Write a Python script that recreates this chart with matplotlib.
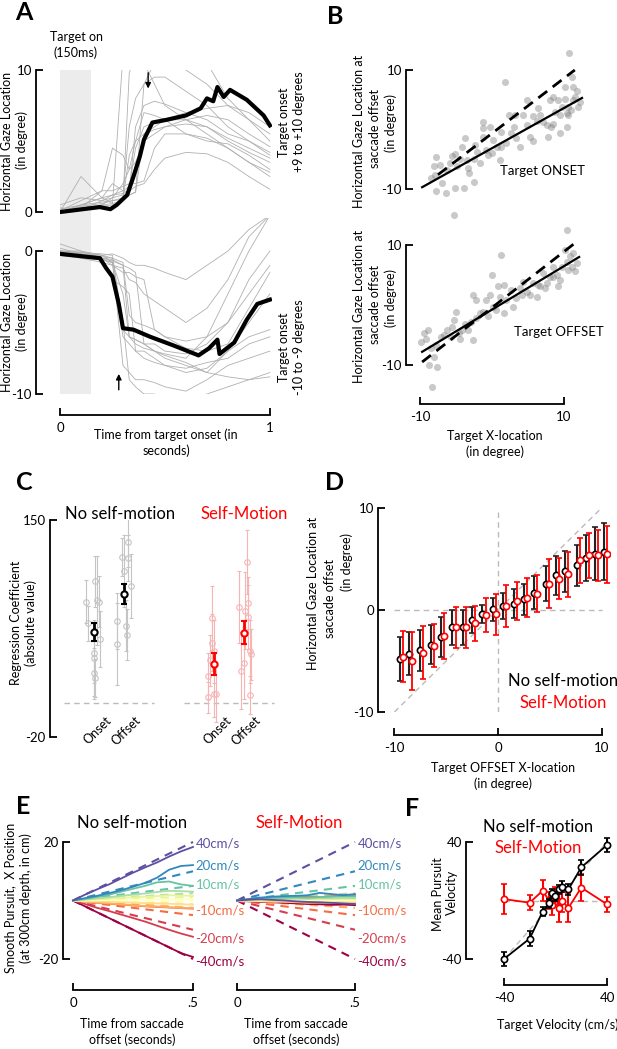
import numpy as np
import matplotlib.pyplot as plt

plt.rcParams['font.family'] = ['Lato', 'DejaVu Sans']
plt.rcParams['axes.linewidth'] = 1.3

# ---------------- data ----------------
# A: gaze traces (time in s, gaze in deg)
a_t = [0, 0.1, 0.2, 0.25, 0.3, 0.33, 0.36, 0.4, 0.45, 0.5, 0.6, 0.7, 0.8, 0.9, 1.0]
a_top_traces = [
    [0, .3, .5, .6, 11, 11, 11, 10.5, 9, 7.5, 6.5, 5.5, 4.5, 3.5, 2.5],
    [0, .2, .8, 1, 1.2, 6, 8, 9, 9.5, 9.5, 8.5, 7.5, 6, 5, 4],
    [.2, .5, 1, 2, 1.5, 1.8, 4.5, 6, 6.3, 6.5, 6.5, 6, 5, 4.2, 3.5],
    [0, .5, .7, .8, 1, 1.2, 1.4, 5.5, 5.8, 6, 6.2, 6, 5.2, 4.5, 3.8],
    [0, .3, 1.5, 4.5, 4, 3, 5, 7, 6.8, 6.5, 5.5, 5.2, 4.5, 3.5, 2.8],
    [.1, .8, 1.5, 1.5, 1.8, 2, 2, 2.2, 4.5, 5.5, 5.5, 5.0, 4.8, 4, 3],
    [0, .2, .4, .5, .8, 9.8, 11, 11, 11, 11, 10, 9, 7.5, 6.5, 5.5],
    [.3, .1, .5, 1, 2, 3, 3.5, 5, 5.5, 6, 6.5, 6.8, 6.5, 5.5, 4.6],
    [0, .5, 1, 1.2, 1.3, 1.5, 1.8, 2, 3, 3.8, 4.2, 4.1, 3.5, 2.5, 1.6],
    [.5, 1, .8, 1.2, 1.5, 1.4, 6, 7.5, 7.8, 7.6, 7, 6.5, 5.5, 5, 4.2],
    [0, 2.5, 1, .6, .8, 1.2, 1.4, 9, 10.5, 11, 11, 10.5, 8, 6.5, 5],
    [0, .4, .6, .8, .9, 4, 5, 5.5, 6, 6.5, 7, 7.3, 7.5, 7, 6],
]
a_bot_traces = [
    [0, -.2, -.5, -.6, -1, -6, -6.5, -6.8, -7, -7.2, -7.5, -6, -3, 0, 2.5],
    [0, -.1, -.3, -.5, -5, -9, -9.5, -10, -10, -10.5, -10.5, -10, -9.5, -9, -8.5],
    [-.2, -.4, -.6, -2, -2.5, -3, -7, -7.5, -7.8, -8, -8.5, -8.2, -7, -5, -3],
    [0, 0, -.5, -1, -1.5, -1.5, -1.8, -2, -5.5, -6, -6.3, -6, -5, -3, -1],
    [.5, 0, -.3, -.2, -.5, -.8, -1, -1, -1.2, -1.5, -2, -1, 0, 1.5, 2.5],
    [0, -.4, -.6, -.8, -8, -8.5, -9, -9, -9.2, -9.5, -9.8, -9, -8, -7.5, -7],
    [-.2, -.2, -.4, -.5, -.8, -4.5, -5, -5.2, -5.5, -6, -6.8, -7, -6.5, -4, -1.5],
    [0, -.3, -.5, -.7, -1, -1.2, -1.5, -6.5, -7, -7.3, -7.8, -8.5, -8.8, -9, -8.8],
    [.2, -.2, -.3, -.8, -3, -6, -6.2, -6.5, -6.5, -7, -7.2, -6.5, -5, -2, 0],
    [0, -.1, -.2, -.3, -5.5, -6, -6.2, -6.5, -7, -7.5, -8, -8.5, -7, -6, -5.5],
    [0, -.5, -.8, -1, -1.2, -2, -2.2, -3, -3.5, -4, -5, -4, -2, 1, 2.5],
    [-.3, -.5, -.6, -.8, -6, -6.5, -7, -7, -7.5, -8, -8.2, -7.8, -7.5, -6.5, -6],
]
a_top_mean_t = [0, .19, .24, .27, .32, .35, .38, .40, .44, .51, .6, .67, .70, .73, .75, .78, .81, .89, .97, 1.0]
a_top_mean_y = [0, .35, .2, .5, 1.2, 2.5, 3.9, 5.1, 6.3, 6.5, 6.8, 7.3, 8.0, 7.8, 8.8, 8.1, 8.6, 7.9, 6.8, 6.1]
a_bot_mean_t = [0, .19, .22, .25, .28, .30, .35, .43, .54, .66, .71, .75, .76, .83, .89, .94, 1.0]
a_bot_mean_y = [-.2, -.5, -1.2, -1.8, -3.7, -5.4, -5.5, -6.0, -6.6, -7.3, -6.8, -6.2, -7.2, -6.4, -4.8, -3.7, -3.4]

# B: scatter (target x, gaze at saccade offset)
b_on_x = [-7.8, -8.1, -7.9, -7.0, -7.8, -6.4, -5.1, -3.9, -2.5, -5.1, -5.8, -4.9, -3.75, -4.2, -3.3, -3.2,
          -1.7, -1.3, -1.2, -0.3, -1.2, 0.1, -0.6, 1.1, 1.3, 1.8, 2.3, 3.0, 3.4, 3.9, 4.8, 4.9, 5.3, 5.7,
          6.4, 6.7, 5.7, 7.8, 8.1, 7.6, 8.5, 9.2, 9.7, 10.1, 10.4, 10.4, 10.7, 11.1, 11.3, 11.8, 12.2,
          12.0, 11.5, 10.6, 9.4, 8.75, 7.1, 4.35, 2.7, 2.0, 0.65, -0.05, -2.1, -2.5, -3.5, -4.4, -6.3,
          -7.2, -8.4, -5.3, -5.5, -2.4, -0.9, 1.3, 3.2, 6.2, 9.4, 8.2, 8.5, 11.3, 10.6, 10.2, 11.0]
b_on_y = [-4.6, -6.2, -7.6, -9.0, -10.3, -10.6, -9.8, -9.9, -8.8, -4.1, -5.7, -6.2, -1.5, -2.9, -6.5, -7.3,
          -5.7, 1.3, 0.2, 0.5, -1.2, -1.8, -4.3, -5.1, -0.4, 8.0, 2.4, 0.5, -1.5, -2.9, 4.9, 0.8, -1.2, 2.2,
          3.6, 2.4, -2.0, -1.2, 4.9, 0.8, 1.0, 4.9, 3.8, 5.2, 0.5, 2.7, 12.8, 8.9, 7.2, 6.4, 4.7,
          3.8, 5.4, 3.8, 2.4, 3.0, 1.3, 2.4, -0.6, -2.3, -2.9, -4.0, -3.7, -4.9, -5.1, -4.9, -6.8,
          -6.0, -8.2, -14.3, -4.5, -2.6, -3.4, -2.9, 2.4, 1.5, -0.6, 0.5, 5.5, 5.0, 2.4, 7.2, 3.3]
b_off_x = [-9.8, -9.2, -8.9, -8.4, -8.7, -8.0, -7.6, -8.3, -7.8, -7.1, -6.6, -6.2, -5.5, -5.0, -5.3, -4.6,
           -4.1, -3.7, -4.4, -2.9, -2.7, -2.7, -2.2, -1.3, -0.8, -0.6, 0.1, 0.0, 0.6, 0.85, 1.1, 1.3, 1.6,
           2.0, 2.7, 3.4, 3.9, 4.35, 4.8, 5.7, 6.2, 6.7, 7.1, 7.6, 8.1, 8.5, 9.0, 9.4, 10.1, 10.4, 10.9,
           11.3, 11.8, 10.6, 9.7, 11.1, 11.5, 8.5, 6.4, 5.3, 2.9, -1.7, -0.3, -3.3, -5.7, -9.5, 10.4,
           -2.2, 1.6, 4.1, 7.3, 9.2]
b_off_y = [-6.1, -5.6, -4.2, -7.2, -10.0, -8.6, -10.3, -13.7, -6.7, -5.3, -5.0, -4.2, -3.6, -1.1, -2.5, -4.7,
           -4.2, -3.1, -5.6, -2.8, -5.8, 1.7, 0.8, -1.1, 0.8, -1.9, -0.3, 5.0, -0.8, 3.1, 1.4, 8.3, -1.4,
           0.8, 2.5, 1.1, 2.8, 3.9, 2.2, 3.6, 1.4, 3.1, 5.3, 3.6, 4.7, 6.4, 5.0, 4.2, 9.2, 7.2, 8.1,
           8.6, 7.0, 5.8, 6.4, 6.4, 5.6, 4.7, 3.3, 1.7, -0.3, -1.4, 1.7, -4.2, -5.3, -4.7, 12.5,
           -2.2, 3.3, 1.7, 2.8, 3.1]
b_on_fit = ([-9.7, 12.5], [-9.7, 5.3])
b_on_ideal = ([-7.5, 11.5], [-7.6, 10.0])
b_off_fit = ([-9.7, 12.1], [-7.8, 8.0])
b_off_ideal = ([-9.7, 11.5], [-9.5, 10.3])

# C: regression coefficients (category positions 0,1 | 4,5)
c_cats = [0, 1, 4, 5]
c_cat_labels = ['Onset', 'Offset', 'Onset', 'Offset']
c_mean = [62.3, 92, 37.2, 61.5]
c_mean_err = [7, 8, 8.5, 9]
c_subj_dx = [
    [-0.27, -0.21, 0.03, 0.01, 0.01, 0.01, 0.03, 0.11, 0.17, 0.18],
    [-0.24, -0.23, -0.08, 0.07, 0.10, 0.14, 0.12, 0.23, 0.0],
    [-0.22, -0.22, -0.08, -0.06, -0.02, 0.0, 0.06, -0.13],
    [-0.18, -0.09, 0.0, 0.04, 0.08, 0.13, 0.13, 0.2, 0.24, 0.21],
]
c_subj_val = [
    [86, 69, 102, 46, 42, 30, 26, 87, 86, 57],
    [71, 53, 121, 67, 60, 120, 133, 98, 110],
    [28, 11, 73, 54, 47, 14, 13.5, 40],
    [82, 32, 38, 79, 117, 74, 85, 47, 45, 13],
]
c_subj_err = [
    [17, 14, 20, 24, 30, 20, 15, 35, 20, 22],
    [22, 32, 15, 20, 20, 18, 20, 25, 28],
    [18, 12, 25, 22, 25, 18, 22, 20],
    [28, 30, 28, 30, 25, 25, 20, 25, 20, 15],
]

# D: binned gaze vs target offset location
d_x = [-9.5, -8.6, -7.5, -6.5, -5.5, -4.4, -3.4, -2.5, -1.5, -0.5, 0.5, 1.5, 2.5, 3.5, 4.6, 5.6, 6.5, 7.6, 8.5, 9.4, 10.2]
d_no_y = [-4.8, -4.3, -3.95, -3.4, -2.65, -1.7, -1.7, -1.0, -0.42, 0.07, 0.4, 0.62, 1.05, 1.7, 2.6, 3.4, 3.8, 4.4, 5.1, 5.5, 5.7]
d_no_err = [2.2, 2.1, 2.0, 1.9, 2.0, 1.7, 1.7, 1.3, 0.9, 1.1, 1.3, 1.4, 1.5, 1.6, 1.7, 1.9, 2.0, 2.0, 2.3, 2.6, 2.8]
d_self_y = [-4.6, -5.0, -4.2, -3.5, -2.55, -1.7, -1.7, -1.3, -0.49, -0.42, 0.4, 0.88, 1.2, 1.6, 2.6, 3.07, 3.5, 4.87, 5.36, 5.36, 5.46]
d_self_err = [2.5, 2.8, 2.6, 2.1, 2.3, 2.0, 2.0, 1.7, 1.7, 2.0, 2.1, 1.9, 1.9, 1.8, 2.4, 2.0, 2.2, 2.2, 2.2, 2.5, 2.8]
d_self_dx = 0.3

# E: smooth pursuit position traces
e_t = [0, .05, .1, .15, .2, .25, .3, .35, .4, .45, .5]
e_vel = [-40, -20, -10, -5, -2.5, 0, 2.5, 5, 10, 20, 40]
e_colors = ['#9e0142', '#d53e4f', '#f46d43', '#fdae61', '#fee08b', '#ffffbf',
            '#e6f598', '#abdda4', '#66c2a5', '#3288bd', '#5e4fa2']
e_target_end = [-20, -10, -5, -2.5, -1.25, 0, 1.25, 2.5, 5, 10, 20]
e_no_traces = [
    [0, -2, -4, -6, -8, -10, -12, -14, -16, -18, -19.3],
    [0, -1.2, -2.5, -3.6, -4.8, -6, -7.2, -8.6, -10, -11.3, -12.4],
    [0, -.4, -.8, -1.1, -1.4, -1.7, -2, -2.2, -2.4, -2.6, -2.8],
    [0, -.4, -.7, -1, -1.3, -1.6, -1.9, -2, -2.3, -2.5, -2.6],
    [0, -.2, -.3, -.4, -.6, -.7, -.9, -1, -1.1, -1.3, -1.4],
    [0, 0, .1, .2, .1, .3, .2, .4, .3, .5, .4],
    [0, .2, .4, .6, .9, 1.1, 1.3, 1.5, 1.8, 1.7, 1.6],
    [0, .3, .7, 1.1, 1.6, 2, 2.4, 2.9, 3.3, 3.2, 3.0],
    [0, .6, 1.2, 2, 3, 4, 5, 6.2, 6.5, 5.5, 5],
    [0, .8, 1.6, 2.5, 3.5, 4.7, 6, 7.8, 10.5, 11.8, 12.1],
    [0, 2, 3.8, 5.5, 7.5, 9.5, 11.3, 13, 15, 16.8, 18.3],
]
e_self_traces = [
    [0, -.3, -.5, -.6, -.8, -1, -1.2, -1.3, -1.5, -1.4, -1.6],
    [0, -.1, -.3, -.4, -.6, -.5, -.7, -.8, -.6, -.8, -.9],
    [0, .3, .6, .8, .9, 1.1, 1.3, 1.1, 1.5, 1.8, 1.6],
    [0, -.2, -.3, -.5, -.4, -.6, -.8, -.7, -.9, -.8, -1],
    [0, -.1, -.2, -.1, -.3, -.4, -.3, -.5, -.4, -.6, -.5],
    [0, .1, 0, .2, .1, 0, .2, -.1, 0, .1, 0],
    [0, .1, .3, .2, .4, .3, .5, .4, .6, .5, .4],
    [0, .2, .4, .6, .5, .7, .6, .8, .7, .9, .8],
    [0, .3, .6, .9, 1, 1.1, 1, 1.2, 1.3, 1.5, 1.4],
    [0, .5, 1, 1.3, 1.5, 1.6, 1.8, 2.6, 2.2, 1.8, 2.2],
    [0, .3, .4, .2, 0, -.3, -.5, -.6, -.8, -1, -1.2],
]
e_label_vel = ['40cm/s', '20cm/s', '10cm/s', '-10cm/s', '-20cm/s', '-40cm/s']
e_label_col = ['#5e4fa2', '#3288bd', '#66c2a5', '#f46d43', '#d53e4f', '#9e0142']
e_label_y = [19.6, 12.1, 5.6, -3.3, -12.9, -21]

# F: mean pursuit velocity
f_x = [-40, -20, -10, -5, -2.5, 0, 2.5, 5, 10, 20, 40]
f_no_y = [-40, -26, -7.6, -2, 4.9, 3, 7.6, 9.5, 7.6, 22.7, 38]
f_no_err = [5, 5, 3, 3, 3, 3, 3, 4, 4, 5, 5]
f_self_y = [1, -1.5, 6.7, 0, -3, 3, -5, 0, -5, 8.8, -2.6]
f_self_err = [10, 5, 7, 6, 7, 6, 10, 8, 10, 9, 5]

# ---------------- figure ----------------
W, H = 617, 1049
fig = plt.figure(figsize=(W / 100, H / 100), dpi=100)
PT = 0.72  # points per pixel


def box(l, t, r, b):
    ax = fig.add_axes([l / W, 1 - b / H, (r - l) / W, (b - t) / H])
    ax.patch.set_visible(False)
    for s in ax.spines.values():
        s.set_visible(False)
    ax.set_xticks([])
    ax.set_yticks([])
    return ax


def yaxis(ax, off, lo, hi, ticks, fs=9.5):
    sp = ax.spines['left']
    sp.set_visible(True)
    sp.set_position(('outward', off * PT))
    sp.set_bounds(lo, hi)
    ax.set_yticks(ticks)
    ax.set_yticklabels([str(v) for v in ticks], fontsize=fs)
    ax.tick_params(axis='y', direction='in', length=5, width=1.3, pad=3)


def xaxis(ax, off, lo, hi, ticks, labels=None, fs=9.5):
    sp = ax.spines['bottom']
    sp.set_visible(True)
    sp.set_position(('outward', off * PT))
    sp.set_bounds(lo, hi)
    ax.set_xticks(ticks)
    ax.set_xticklabels(labels if labels else [str(v) for v in ticks], fontsize=fs)
    ax.tick_params(axis='x', direction='in', length=5, width=1.3, pad=5)


def ftext(x, y, s, **kw):
    kw.setdefault('ha', 'center')
    kw.setdefault('va', 'center')
    fig.text(x / W, 1 - y / H, s, **kw)


def vlabel(xs, ys, lines, **kw):
    # rotated multi-line label, one text per line
    for xl, yl, s in zip(xs, ys, lines):
        ftext(xl, yl, s, rotation=90, fontsize=LBL, **kw)


LBL = 9
TTL = 12
# ---- panel A ----
axA1 = box(60, 70, 272, 218)
axA1.set_xlim(0, 1.01)
axA1.set_ylim(-0.42, 10)
axA2 = box(60, 218, 272, 394)
axA2.set_xlim(0, 1.01)
axA2.set_ylim(-10, 2.31)
for ax, traces in ((axA1, a_top_traces), (axA2, a_bot_traces)):
    ax.axvspan(0, 0.15, color='#ececec', lw=0, zorder=0)
    for tr in traces:
        ax.plot(a_t, tr, color='#b0b0b0', lw=0.6, zorder=1)
axA1.plot(a_top_mean_t, a_top_mean_y, color='k', lw=3, zorder=3)
axA2.plot(a_bot_mean_t, a_bot_mean_y, color='k', lw=3, zorder=3)
yaxis(axA1, 24, 0, 10, [0, 10])
yaxis(axA2, 24, -10, 0, [-10, 0])
xaxis(axA2, 21, 0, 1, [0, 1])
axA1.annotate('', xy=(0.42, 8.5), xytext=(0.42, 10),
              arrowprops=dict(arrowstyle='-|>', color='k', lw=1, mutation_scale=8))
axA2.annotate('', xy=(0.28, -8.4), xytext=(0.28, -9.9),
              arrowprops=dict(arrowstyle='-|>', color='k', lw=1, mutation_scale=8))
ftext(24, 13, 'A', fontsize=18, fontweight='bold')
ftext(76, 45, 'Target on\n(150ms)', fontsize=LBL, linespacing=1.3)
a_lbl = ['Horizontal Gaze Location', '(in degree)']
vlabel((7, 22), (141, 140), a_lbl)
vlabel((7, 22), (322, 322), a_lbl)
vlabel((284, 299), (122, 122), ['Target onset', '+9 to +10 degrees'])
vlabel((284, 299), (347, 347), ['Target onset', '-10 to -9 degrees'])
ftext(166, 443, 'Time from target onset (in\nseconds)', fontsize=LBL, linespacing=1.3)

# ---- panel B ----
axB1 = box(415, 40, 590, 220)
axB1.set_xlim(-10.69, 13.61)
axB1.set_ylim(-15.21, 15.04)
axB2 = box(415, 222, 590, 385)
axB2.set_xlim(-10.69, 13.61)
axB2.set_ylim(-13.33, 13.83)
for ax, xs, ys, fit, ideal in ((axB1, b_on_x, b_on_y, b_on_fit, b_on_ideal),
                               (axB2, b_off_x, b_off_y, b_off_fit, b_off_ideal)):
    ax.scatter(xs, ys, s=26, color='#7a7a7a', alpha=0.4, lw=0, clip_on=False)
    ax.plot(*fit, color='k', lw=1.6, clip_on=False)
    ax.plot(*ideal, color='k', lw=2, ls=(0, (4, 2.5)), clip_on=False)
    yaxis(ax, 9, -10, 10, [-10, 10])
xaxis(axB2, 19, -10, 10, [-10, 10])
axB1.text(7.0, -6.9, 'Target ONSET', fontsize=9.5, ha='center', va='center')
axB2.text(9.3, -4.5, 'Target OFFSET', fontsize=9.5, ha='center', va='center')
ftext(335, 17, 'B', fontsize=18, fontweight='bold')
b_lbl = ['Horizontal Gaze Location at', 'saccade offset', '(in degree)']
vlabel((359, 375, 391), (131, 129, 123), b_lbl)
vlabel((359, 375, 391), (306, 304, 298), b_lbl)
ftext(495, 444, 'Target X-location\n(in degree)', fontsize=LBL, linespacing=1.3)

# ---- panel C ----
axC = box(50, 520, 290, 737)
axC.set_xlim(-1.47, 6.53)
axC.set_ylim(-20, 150)
sp = axC.spines['left']
sp.set_visible(True)
axC.set_yticks([-20, 150])
axC.set_yticklabels(['-20', '150'], fontsize=9.5)
axC.tick_params(axis='y', direction='in', length=5, width=1.3, pad=3)
axC.plot([-1, 2], [6.5, 6.5], color='#bbbbbb', lw=1, ls=(0, (4, 3)))
axC.plot([3, 6], [6.5, 6.5], color='#bbbbbb', lw=1, ls=(0, (4, 3)))
for i, cx in enumerate(c_cats):
    faint = '#c4c4c4' if cx < 3 else '#f7b4b4'
    strong = 'k' if cx < 3 else 'red'
    xs = [cx + d for d in c_subj_dx[i]]
    axC.errorbar(xs, c_subj_val[i], yerr=c_subj_err[i], fmt='o', ms=4, mfc='none', mec=faint,
                 ecolor=faint, elinewidth=0.8, capsize=1.5, mew=0.8, zorder=2)
    axC.errorbar([cx], [c_mean[i]], yerr=[c_mean_err[i]], fmt='o', ms=4.5, mfc='white', mec=strong,
                 ecolor=strong, elinewidth=2, capsize=2.5, capthick=1.5, mew=1.5, zorder=4)
    axC.text(cx + 0.35, -2, c_cat_labels[i], rotation=45, ha='right', va='top',
             rotation_mode='anchor', fontsize=9)
axC.text(0.87, 155, 'No self-motion', fontsize=TTL, ha='center', va='center')
axC.text(5.0, 155, 'Self-Motion', fontsize=TTL, ha='center', va='center', color='red')
ftext(24, 482, 'C', fontsize=18, fontweight='bold')
vlabel((16, 31), (623, 623), ['Regression Coefficient', '(absolute value)'])

# ---- panel D ----
axD = box(390, 506, 610, 712)
axD.set_xlim(-10.43, 10.82)
axD.set_ylim(-10, 10.2)
axD.plot([-10, 10], [-10, 10], color='#bbbbbb', lw=1, ls=(0, (4, 3)), zorder=1)
axD.plot([-10, 10], [0, 0], color='#bbbbbb', lw=1, ls=(0, (4, 3)), zorder=1)
axD.plot([0, 0], [-10, 10], color='#bbbbbb', lw=1, ls=(0, (4, 3)), zorder=1)
axD.errorbar(d_x, d_no_y, yerr=d_no_err, fmt='o', ms=4.5, mfc='white', mec='k', mew=1.2,
             ecolor='#222222', elinewidth=1.5, capsize=2, capthick=1.2, zorder=3)
axD.errorbar([x + d_self_dx for x in d_x], d_self_y, yerr=d_self_err, fmt='o', ms=4.5, mfc='white',
             mec='red', mew=1.2, ecolor='red', elinewidth=1.3, capsize=2, capthick=1.2, zorder=4)
yaxis(axD, 12, -10, 10, [-10, 0, 10])
xaxis(axD, 23, -10, 10, [-10, 0, 10])
axD.text(6.3, -7.0, 'No self-motion', fontsize=TTL, ha='center', va='center')
axD.text(6.3, -9.1, 'Self-Motion', fontsize=TTL, ha='center', va='center', color='red')
ftext(335, 482, 'D', fontsize=18, fontweight='bold')
vlabel((313, 330, 347), (593, 598, 562), b_lbl)
ftext(503, 776, 'Target OFFSET X-location\n(in degree)', fontsize=LBL, linespacing=1.3)

# ---- panel E ----
axE1 = box(73, 842, 193, 959)
axE2 = box(237, 842, 355, 959)
for ax, traces in ((axE1, e_no_traces), (axE2, e_self_traces)):
    ax.set_xlim(0, 0.5)
    ax.set_ylim(-20, 20)
    for k in range(len(e_vel)):
        ax.plot([0, 0.5], [0, e_target_end[k]], color=e_colors[k], lw=1.5, ls=(0, (4, 3)), clip_on=False)
    for k in range(len(e_vel)):
        ax.plot(e_t, traces[k], color=e_colors[k], lw=1.3, clip_on=False)
    for s, c, y in zip(e_label_vel, e_label_col, e_label_y):
        ax.text(0.51, y, s, color=c, fontsize=9.5, ha='left', va='center')
    xaxis(ax, 31, 0, 0.5, [0, 0.5], ['0', '.5'])
yaxis(axE1, 10, -20, 20, [-20, 20])
ftext(23, 806, 'E', fontsize=18, fontweight='bold')
ftext(132, 823, 'No self-motion', fontsize=TTL)
ftext(299, 823, 'Self-Motion', fontsize=TTL, color='red')
vlabel((10, 26), (898, 898), ['Smooth Pursuit,  X Position', '(at 300cm depth, in cm)'])
ftext(132, 1032, 'Time from saccade\noffset (seconds)', fontsize=LBL, linespacing=1.3)
ftext(296, 1032, 'Time from saccade\noffset (seconds)', fontsize=LBL, linespacing=1.3)

# ---- panel F ----
axF = box(495, 835, 612, 970)
axF.set_xlim(-46.9, 43.8)
axF.set_ylim(-47.5, 44.8)
axF.plot([-40, 40], [-40, 40], color='#bbbbbb', lw=1, ls=(0, (4, 3)), zorder=1)
axF.plot([-40, 40], [0, 0], color='#bbbbbb', lw=1, ls=(0, (4, 3)), zorder=1)
axF.errorbar(f_x, f_self_y, yerr=f_self_err, fmt='-o', color='red', ms=4.5, mfc='white', mew=1.2,
             lw=1.3, elinewidth=1.5, capsize=2, capthick=1.3, zorder=3, clip_on=False)
axF.errorbar(f_x, f_no_y, yerr=f_no_err, fmt='-o', color='k', ms=4.5, mfc='white', mew=1.2,
             lw=1.3, elinewidth=1.5, capsize=2, capthick=1.3, zorder=4, clip_on=False)
yaxis(axF, 29, -40, 40, [-40, 40])
xaxis(axF, 15, -40, 40, [-40, 40])
ftext(412, 808, 'F', fontsize=18, fontweight='bold')
ftext(538, 827, 'No self-motion', fontsize=TTL)
ftext(538, 848, 'Self-Motion', fontsize=TTL, color='red')
vlabel((438, 452), (894, 892), ['Mean Pursuit', 'Velocity'])
ftext(497, 1025, 'Target Velocity (cm/s)', fontsize=LBL, ha='left')

fig.savefig('out.png', dpi=100)
